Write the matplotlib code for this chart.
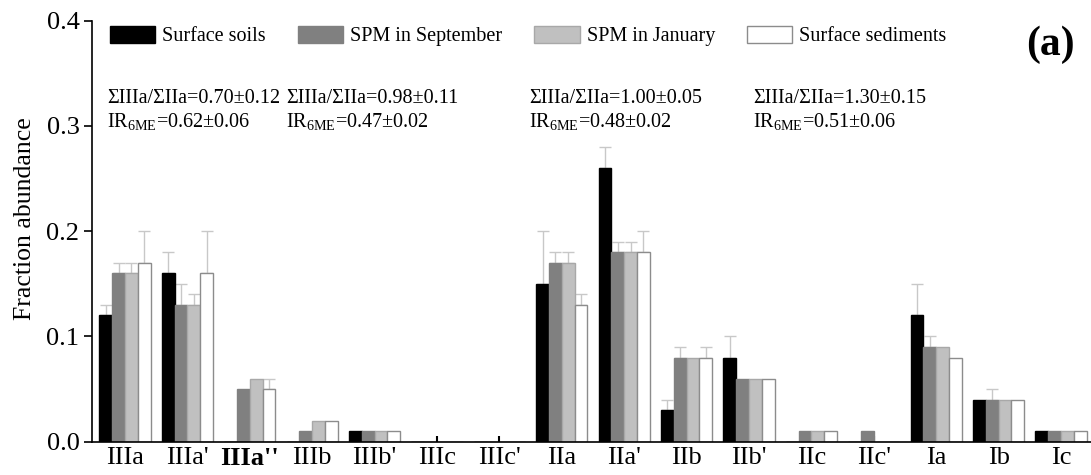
import numpy as np
import matplotlib
matplotlib.use("Agg")
import matplotlib.pyplot as plt
from matplotlib.patches import Patch

plt.rcParams['font.family'] = ['Liberation Serif', 'DejaVu Serif']
plt.rcParams['mathtext.fontset'] = 'custom'
plt.rcParams['mathtext.rm'] = 'Liberation Serif'

# data
categories = ["IIIa", "IIIa'", "IIIa''", "IIIb", "IIIb'", "IIIc", "IIIc'",
              "IIa", "IIa'", "IIb", "IIb'", "IIc", "IIc'", "Ia", "Ib", "Ic"]
series_names = ["Surface soils", "SPM in September", "SPM in January", "Surface sediments"]

soils = [0.12, 0.16, 0.00, 0.00, 0.01, 0.00, 0.00, 0.15, 0.26, 0.03, 0.08, 0.00, 0.00, 0.12, 0.04, 0.01]
spm_sep = [0.16, 0.13, 0.05, 0.01, 0.01, 0.00, 0.00, 0.17, 0.18, 0.08, 0.06, 0.01, 0.01, 0.09, 0.04, 0.01]
spm_jan = [0.16, 0.13, 0.06, 0.02, 0.01, 0.00, 0.00, 0.17, 0.18, 0.08, 0.06, 0.01, 0.00, 0.09, 0.04, 0.01]
sediments = [0.17, 0.16, 0.05, 0.02, 0.01, 0.00, 0.00, 0.13, 0.18, 0.08, 0.06, 0.01, 0.00, 0.08, 0.04, 0.01]

soils_err = [0.01, 0.02, 0, 0, 0, 0, 0, 0.05, 0.02, 0.01, 0.02, 0, 0, 0.03, 0, 0]
spm_sep_err = [0.01, 0.02, 0, 0, 0, 0, 0, 0.01, 0.01, 0.01, 0, 0, 0, 0.01, 0.01, 0]
spm_jan_err = [0.01, 0.01, 0, 0, 0, 0, 0, 0.01, 0.01, 0, 0, 0, 0, 0, 0, 0]
sediments_err = [0.03, 0.04, 0.01, 0, 0, 0, 0, 0.01, 0.02, 0.01, 0, 0, 0, 0, 0, 0]

ratio_texts = ["ΣIIIa/ΣIIa=0.70±0.12", "ΣIIIa/ΣIIa=0.98±0.11",
               "ΣIIIa/ΣIIa=1.00±0.05", "ΣIIIa/ΣIIa=1.30±0.15"]
ir_texts = [r"IR$_{\mathrm{6ME}}$=0.62±0.06", r"IR$_{\mathrm{6ME}}$=0.47±0.02",
            r"IR$_{\mathrm{6ME}}$=0.48±0.02", r"IR$_{\mathrm{6ME}}$=0.51±0.06"]
text_x = [-0.29, 2.58, 6.47, 10.06]

values = [soils, spm_sep, spm_jan, sediments]
errors = [soils_err, spm_sep_err, spm_jan_err, sediments_err]
faces = ["#000000", "#808080", "#c0c0c0", "#ffffff"]
edges = ["#000000", "#808080", "#a8a8a8", "#8c8c8c"]

fig = plt.figure(figsize=(10.91, 4.75), dpi=100)
ax = fig.add_axes([0.0843, 0.0701, 0.9157, 0.8863])

x = np.arange(len(categories))
w = 0.205
for i in range(4):
    pos = x + (i - 1.5) * w
    v = np.array(values[i])
    e = np.array(errors[i])
    ax.bar(pos, v, width=w, color=faces[i], edgecolor=edges[i], linewidth=1.0, zorder=2)
    m = e > 0
    ax.errorbar(pos[m], v[m], yerr=[np.zeros(m.sum()), e[m]], fmt='none',
                ecolor="#c8c8c8", elinewidth=1.0, capsize=4.5, capthick=1.0, zorder=1)

ax.set_xlim(-0.53, 15.48)
ax.set_ylim(0, 0.4)
ax.set_yticks([0.0, 0.1, 0.2, 0.3, 0.4])
ax.set_yticklabels(["0.0", "0.1", "0.2", "0.3", "0.4"])
ax.set_xticks(x)
ax.set_xticklabels(categories)
ax.get_xticklabels()[2].set_fontweight('bold')

ax.spines['top'].set_visible(False)
ax.spines['right'].set_visible(False)
ax.spines['left'].set_linewidth(1.2)
ax.spines['bottom'].set_linewidth(1.2)
ax.tick_params(axis='y', direction='out', length=6, width=1.2, labelsize=19, pad=3)
ax.tick_params(axis='x', direction='in', length=4, width=1.5, labelsize=19, pad=4)
ax.set_ylabel("Fraction abundance", fontsize=18.5)
ax.yaxis.set_label_coords(-0.056, 0.531)

for tx, r, ir in zip(text_x, ratio_texts, ir_texts):
    ax.text(tx, 0.3218, r, fontsize=14.5, ha='left', va='baseline')
    ax.text(tx, 0.298, ir, fontsize=14.5, ha='left', va='baseline')

handles = [Patch(facecolor=faces[i], edgecolor=edges[i], linewidth=1.0) for i in range(4)]
ax.legend(handles, series_names, loc='center left', bbox_to_anchor=(0.018, 0.9637),
          ncol=4, frameon=False, fontsize=14.5, borderpad=0, borderaxespad=0,
          handlelength=2.24, handleheight=0.9, handletextpad=0.35, columnspacing=1.6)

ax.text(0.959, 0.942, "(a)", transform=ax.transAxes, fontsize=30, fontweight='bold',
        ha='center', va='center')

fig.savefig("out.png", dpi=100)
